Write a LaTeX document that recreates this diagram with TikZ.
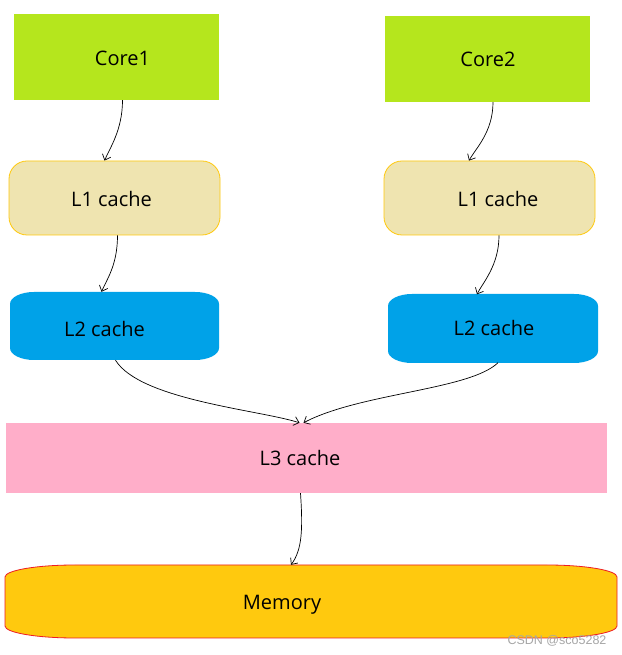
\documentclass[tikz,border=0pt]{standalone}
\usepackage{fontspec}
\setmainfont{Open Sans}
\newfontfamily\wmfont{Liberation Sans}
\usetikzlibrary{arrows.meta}
\definecolor{corecol}{HTML}{B5E61D}
\definecolor{lonecol}{HTML}{EFE4B0}
\definecolor{lonebd}{HTML}{FFC90E}
\definecolor{ltwocol}{HTML}{00A2E8}
\definecolor{lthreecol}{HTML}{FFAEC9}
\definecolor{memcol}{HTML}{FFC90E}
\definecolor{membd}{HTML}{ED1C24}
% elliptical-corner box: x1 y1 x2 y2 rx ry
\newcommand{\ellboxpath}[6]{({#1+#5},#4) -- ({#3-#5},#4)
  arc[start angle=90,end angle=0,x radius=#5,y radius=#6] -- (#3,{#2+#6})
  arc[start angle=0,end angle=-90,x radius=#5,y radius=#6] -- ({#1+#5},#2)
  arc[start angle=270,end angle=180,x radius=#5,y radius=#6] -- (#1,{#4-#6})
  arc[start angle=180,end angle=90,x radius=#5,y radius=#6] -- cycle}
\tikzset{
  txt/.style={font=\fontsize{20}{24}\selectfont},
  corebox/.style={fill=corecol, minimum width=205pt, minimum height=86pt, inner sep=0pt},
  lonebox/.style={fill=lonecol, draw=lonebd, line width=0.8pt, rounded corners=18pt, minimum width=211pt, minimum height=74pt, inner sep=0pt},
  ltwobox/.style={minimum width=209pt, minimum height=68pt, inner sep=0pt},
  lthreebox/.style={fill=lthreecol, minimum width=601pt, minimum height=70pt, inner sep=0pt},
  membox/.style={minimum width=612pt, minimum height=73pt, inner sep=0pt},
  conn/.style={line width=0.7pt, -{Straight Barb[length=5pt,width=9pt]}},
}
\begin{document}
\begin{tikzpicture}[x=1pt,y=1pt]
\useasboundingbox (0,0) rectangle (621,655);
\fill[white] (0,0) rectangle (621,655);
% shapes with elliptical corners
\fill[ltwocol] \ellboxpath{10}{295}{219}{363}{24}{12};
\fill[ltwocol] \ellboxpath{388}{292}{598}{361}{24}{12};
\filldraw[fill=memcol, draw=membd, line width=0.8pt] \ellboxpath{5}{17}{617}{90}{70}{12};
% nodes
\node[corebox, label={[txt, xshift=6pt, yshift=-1pt]center:Core1}] (core1) at (116.5,598) {};
\node[corebox, label={[txt, xshift=1pt]center:Core2}] (core2) at (487,596) {};
\node[lonebox, label={[txt, xshift=-3pt, yshift=-1pt]center:L1 cache}] (l1a) at (114.5,457) {};
\node[lonebox, label={[txt, xshift=8.5pt, yshift=-1pt]center:L1 cache}] (l1b) at (489.5,457) {};
\node[ltwobox, label={[txt, xshift=-10pt, yshift=-3pt]center:L2 cache}] (l2a) at (114.5,329) {};
\node[ltwobox, label={[txt, xshift=1pt]center:L2 cache}] (l2b) at (493,326.5) {};
\node[lthreebox, label={[txt, xshift=-6.5pt]center:L3 cache}] (l3) at (306.5,197) {};
\node[membox, label={[txt, xshift=-29pt, yshift=-3pt]center:Memory}] (mem) at (311,53.5) {};
\node[font=\wmfont\fontsize{12.5}{14}\selectfont, text=gray!70] (wm) at (557,14) {CSDN @sco5282};
% connectors
\draw[conn] ([xshift=6pt]core1.south) .. controls ([xshift=6pt,yshift=-30pt]core1.south) and ([xshift=-5pt,yshift=12pt]l1a.north) .. ([xshift=-10pt]l1a.north);
\draw[conn] ([xshift=6pt]core2.south) .. controls ([xshift=6pt,yshift=-30pt]core2.south) and ([xshift=-14pt,yshift=12pt]l1b.north) .. ([xshift=-20.5pt]l1b.north);
\draw[conn] ([xshift=3pt]l1a.south) .. controls ([xshift=3pt,yshift=-30pt]l1a.south) and ([xshift=-8pt,yshift=12pt]l2a.north) .. ([xshift=-13pt]l2a.north);
\draw[conn] ([xshift=9.5pt]l1b.south) .. controls ([xshift=9.5pt,yshift=-30pt]l1b.south) and ([xshift=-10pt,yshift=12pt]l2b.north) .. ([xshift=-16pt]l2b.north);
\draw[conn] ([xshift=1pt]l2a.south) .. controls (140,255) and (260,245) .. ([xshift=-7pt]l3.north);
\draw[conn] ([xshift=5pt]l2b.south) .. controls (470,265) and (360,262) .. ([xshift=-3pt]l3.north);
\draw[conn] ([xshift=-6pt]l3.south) .. controls (303,125) and (302,105) .. ([xshift=-20pt]mem.north);
\end{tikzpicture}
\end{document}
